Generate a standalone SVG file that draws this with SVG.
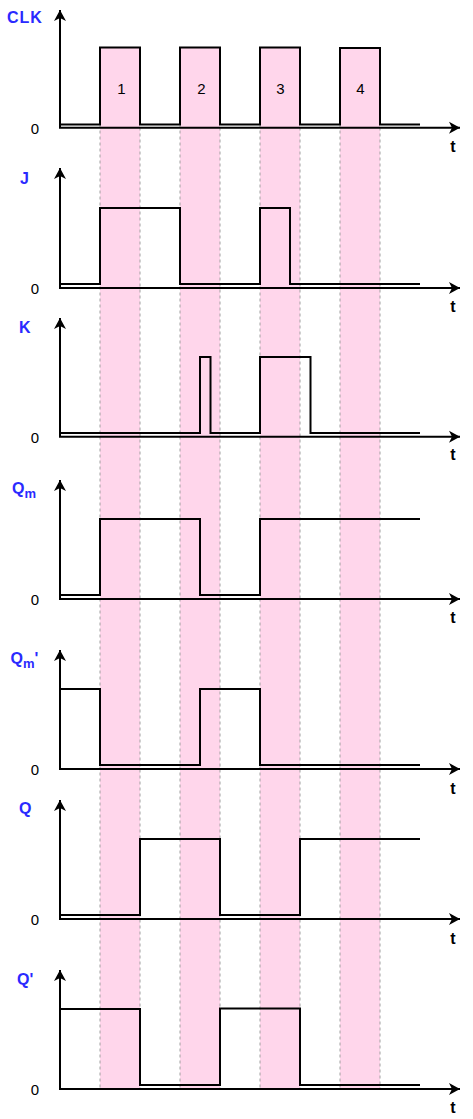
<svg xmlns="http://www.w3.org/2000/svg" width="473" height="1119" viewBox="0 0 473 1119">
<style>
.band{fill:#ffd6eb;stroke:#a0a0a0;stroke-width:1;stroke-dasharray:3 3}
.axis{fill:none;stroke:#000;stroke-width:2;marker-start:url(#arr);marker-end:url(#arr)}
.sig{fill:none;stroke:#000;stroke-width:2;stroke-linejoin:miter}
.lbl{font-family:"Liberation Sans",Arial,sans-serif;font-weight:bold;font-size:16px;fill:#2a2aff}
.zero{font-family:"Liberation Sans",Arial,sans-serif;font-size:15px;fill:#000;text-anchor:middle}
.t{font-family:"Liberation Sans",Arial,sans-serif;font-size:16px;font-weight:bold;fill:#000;text-anchor:middle}
.num{font-family:"Liberation Sans",Arial,sans-serif;font-size:15px;fill:#000;text-anchor:middle}
</style>
<defs>
<marker id="arr" markerUnits="userSpaceOnUse" viewBox="-12 -7 13 14" refX="0" refY="0" markerWidth="13" markerHeight="14" orient="auto-start-reverse">
<path d="M0,0 L-11,-6 L-8,0 L-11,6 Z" fill="#000"/>
</marker>
</defs>
<rect width="473" height="1119" fill="#fff"/>
<g id="bands">
<rect class="band" x="100" y="47.5" width="40" height="1041"/>
<rect class="band" x="180" y="47.5" width="40" height="1041"/>
<rect class="band" x="260" y="47.5" width="40" height="1041"/>
<rect class="band" x="340" y="47.5" width="40" height="1041"/>
</g>
<g id="connectors">
<path class="axis" d="M60,10 L60,127.7 L460,127.7"/>
<path class="axis" d="M60,168 L60,288 L460,288"/>
<path class="axis" d="M60,318 L60,436.7 L460,436.7"/>
<path class="axis" d="M60,480 L60,599 L460,599"/>
<path class="axis" d="M60,650 L60,769 L460,769"/>
<path class="axis" d="M60,800 L60,919 L460,919"/>
<path class="axis" d="M60,970 L60,1089 L460,1089"/>
</g>
<g id="clk">
<path class="sig" d="M60,124.5 H100 V47.5 H140 V124.5 H180 V47.5 H220 V124.5 H260 V47.5 H300 V124.5 H340 V48 H380 V124.5 H420"/>
<text class="lbl" x="7" y="22.5" letter-spacing="1">CLK</text>
<text class="zero" x="35" y="133.5">0</text>
<text class="t" x="453" y="152">t</text>
<text class="num" x="121.5" y="94">1</text>
<text class="num" x="201.5" y="94">2</text>
<text class="num" x="280.5" y="94">3</text>
<text class="num" x="360.5" y="94">4</text>
</g>
<g id="j">
<path class="sig" d="M60,284 H100 V208 H180 V284 H260 V208 H290 V284 H420"/>
<text class="lbl" x="20" y="183.5">J</text>
<text class="zero" x="35" y="293.5">0</text>
<text class="t" x="453" y="312">t</text>
</g>
<g id="k">
<path class="sig" d="M60,433 H200 V357 H210.5 V433 H260 V357 H310.5 V433 H420"/>
<text class="lbl" x="19" y="333">K</text>
<text class="zero" x="35" y="442.5">0</text>
<text class="t" x="453" y="460">t</text>
</g>
<g id="qm">
<path class="sig" d="M60,595 H100 V519 H200 V595 H260 V519 H420"/>
<text class="lbl" x="12" y="494">Q<tspan font-size="13" dy="4">m</tspan></text>
<text class="zero" x="35" y="604.5">0</text>
<text class="t" x="453" y="623">t</text>
</g>
<g id="qm-bar">
<path class="sig" d="M60,689 H100 V765 H200 V689 H260 V765 H420"/>
<text class="lbl" x="10.5" y="664">Q<tspan font-size="13" dy="4">m</tspan><tspan dy="-4">'</tspan></text>
<text class="zero" x="35" y="774.5">0</text>
<text class="t" x="453" y="794">t</text>
</g>
<g id="q">
<path class="sig" d="M60,915 H140 V839 H220 V915 H300 V839 H420"/>
<text class="lbl" x="19" y="814">Q</text>
<text class="zero" x="35" y="924.5">0</text>
<text class="t" x="453" y="944">t</text>
</g>
<g id="q-bar">
<path class="sig" d="M60,1009 H140 V1085 H220 V1008.5 H300 V1085 H420"/>
<text class="lbl" x="17" y="984.5">Q'</text>
<text class="zero" x="35" y="1094.5">0</text>
<text class="t" x="453" y="1113">t</text>
</g>
</svg>
